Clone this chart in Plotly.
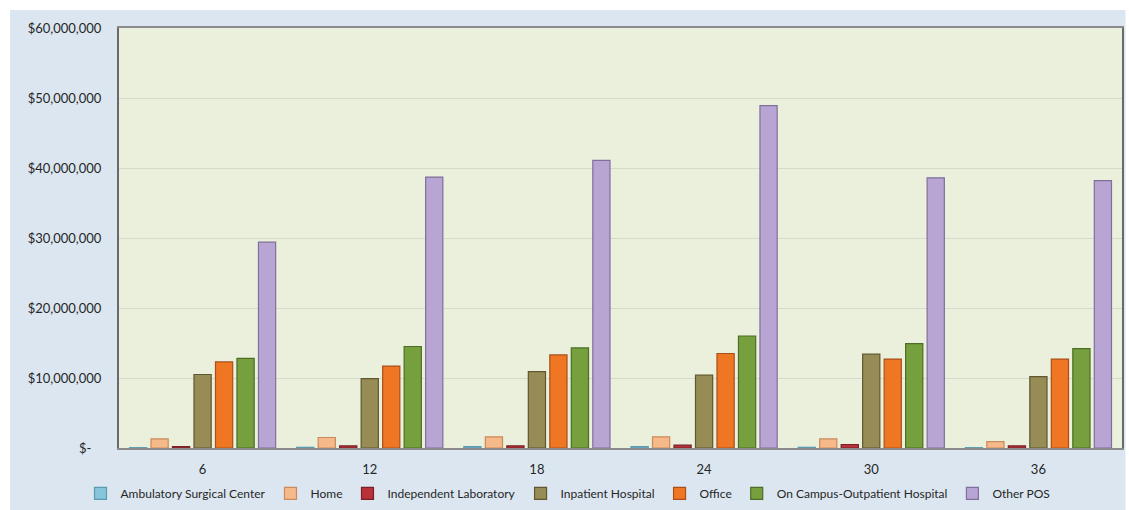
import plotly.graph_objects as go

# Months since start
months = ["6", "12", "18", "24", "30", "36"]

# Spend by place of service (USD)
ambulatory_surgical = [50_000, 100_000, 200_000, 200_000, 100_000, 50_000]
home = [1_300_000, 1_500_000, 1_600_000, 1_600_000, 1_300_000, 900_000]
independent_lab = [200_000, 300_000, 300_000, 400_000, 500_000, 300_000]
inpatient_hospital = [10_500_000, 9_900_000, 10_900_000, 10_400_000, 13_400_000, 10_200_000]
office = [12_300_000, 11_700_000, 13_300_000, 13_500_000, 12_700_000, 12_700_000]
on_campus_outpatient = [12_800_000, 14_500_000, 14_300_000, 16_000_000, 14_900_000, 14_200_000]
other_pos = [29_400_000, 38_700_000, 41_100_000, 48_900_000, 38_600_000, 38_200_000]

series_names = [
    "Ambulatory Surgical Center",
    "Home",
    "Independent Laboratory",
    "Inpatient Hospital",
    "Office",
    "On Campus-Outpatient Hospital",
    "Other POS",
]
series_values = [
    ambulatory_surgical,
    home,
    independent_lab,
    inpatient_hospital,
    office,
    on_campus_outpatient,
    other_pos,
]
fill_colors = ["#86c5da", "#f6b98a", "#b8323a", "#978c55", "#ef7622", "#76a03d", "#b9a5d4"]
edge_colors = ["#5a9bb0", "#c98a5c", "#7a1f25", "#5f5731", "#a9501a", "#4d6c25", "#7f6f9c"]

y_ticks = [0, 10_000_000, 20_000_000, 30_000_000, 40_000_000, 50_000_000, 60_000_000]
y_tick_text = ["$-\u00a0\u00a0\u00a0", "$10,000,000", "$20,000,000", "$30,000,000",
               "$40,000,000", "$50,000,000", "$60,000,000"]

fig = go.Figure()
for name, vals, fc, ec in zip(series_names, series_values, fill_colors, edge_colors):
    fig.add_trace(go.Bar(
        name=name,
        x=months,
        y=vals,
        marker=dict(color=fc, line=dict(color=ec, width=1.2)),
    ))

font_family = "Lato, 'Open Sans', sans-serif"

# plot area spans x 119..1122, y 28..447.7 in pixels
plot_h = 419.7
plot_w = 1003.0


def py(px_y):
    return (447.7 - px_y) / plot_h


def px(px_x):
    return (px_x - 119) / plot_w


fig.update_layout(
    width=1129,
    height=510,
    barmode="group",
    bargap=0.1,
    bargroupgap=0.2,
    paper_bgcolor="#dce6f1",
    plot_bgcolor="#ebf0dc",
    margin=dict(l=119, r=7, t=28, b=62, pad=0, autoexpand=False),
    font=dict(family=font_family, size=13, color="#262626"),
    showlegend=True,
    legend=dict(
        orientation="h",
        x=px(568),
        xanchor="center",
        y=py(493),
        yanchor="middle",
        font=dict(family=font_family, size=12, color="#262626"),
        itemwidth=30,
        tracegroupgap=0,
        bgcolor="rgba(0,0,0,0)",
    ),
    xaxis=dict(
        showline=True,
        linecolor="#8a8a8a",
        linewidth=1.5,
        mirror=True,
        ticks="",
        tickfont=dict(family=font_family, size=13, color="#262626"),
        ticklabelstandoff=9,
    ),
    yaxis=dict(
        range=[0, 60_000_000],
        tickvals=y_ticks,
        ticktext=y_tick_text,
        showgrid=True,
        gridcolor="#d6dacb",
        gridwidth=1,
        zeroline=False,
        showline=True,
        linecolor="#6a6a6a",
        linewidth=2,
        mirror=True,
        ticks="",
        ticklabelstandoff=13,
        tickfont=dict(family=font_family, size=13, color="#262626"),
    ),
    shapes=[
        # white frame around the light-blue chart panel
        dict(type="rect", xref="paper", yref="paper",
             x0=-0.2, x1=1.1, y0=py(10), y1=1.2,
             fillcolor="white", line=dict(width=0), layer="below"),
        dict(type="rect", xref="paper", yref="paper",
             x0=-0.2, x1=px(10), y0=-0.3, y1=1.2,
             fillcolor="white", line=dict(width=0), layer="below"),
        dict(type="rect", xref="paper", yref="paper",
             x0=px(1125.5), x1=1.1, y0=-0.3, y1=1.2,
             fillcolor="white", line=dict(width=0), layer="below"),
    ],
)

fig.write_html("out.html")
